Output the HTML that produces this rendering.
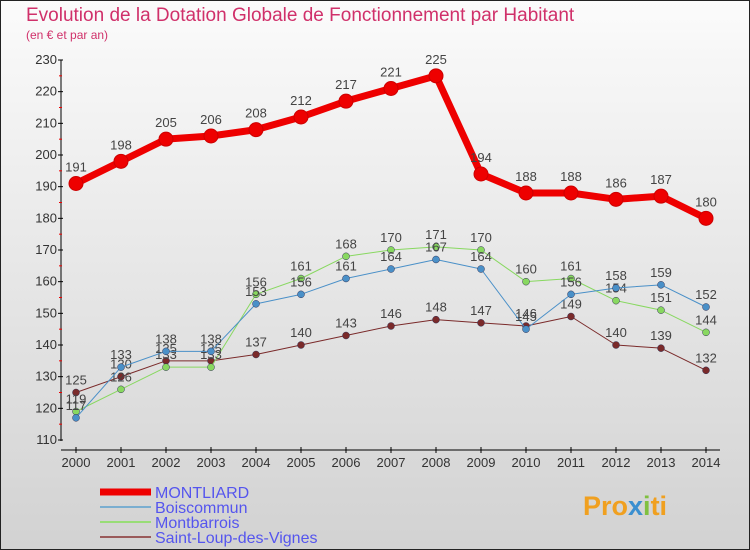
<!DOCTYPE html>
<html><head><meta charset="utf-8"><style>
body{margin:0;width:750px;height:550px;overflow:hidden}
svg{display:block;font-family:"Liberation Sans",sans-serif}
</style></head><body>
<svg width="750" height="550" xmlns="http://www.w3.org/2000/svg">
<defs><linearGradient id="bg" x1="0" y1="0" x2="0" y2="1"><stop offset="0" stop-color="#fbfbfb"/><stop offset="1" stop-color="#d2d2d2"/></linearGradient></defs>
<rect x="0.5" y="0.5" width="749" height="549" fill="url(#bg)" stroke="#222"/>
<text x="26" y="21" font-size="19" fill="#d0306a">Evolution de la Dotation Globale de Fonctionnement par Habitant</text>
<text x="26" y="39" font-size="12" fill="#d0306a">(en € et par an)</text>
<g id="axes"></g>
<g id="series"></g>
<g id="legend"></g>
<text x="583" y="515" font-size="27" font-weight="bold" fill="#f0a020">Pro<tspan fill="#3a8fd0">x</tspan><tspan fill="#80c040">i</tspan>ti</text>
</svg>
<script>
const years=[2000,2001,2002,2003,2004,2005,2006,2007,2008,2009,2010,2011,2012,2013,2014];
const yTicks=[110,120,130,140,150,160,170,180,190,200,210,220,230];
const montliard=[191,198,205,206,208,212,217,221,225,194,188,188,186,187,180];
const boiscommun=[117,133,138,138,153,156,161,164,167,164,145,156,158,159,152];
const montbarrois=[119,126,133,133,156,161,168,170,171,170,160,161,154,151,144];
const saintLoup=[125,130,135,135,137,140,143,146,148,147,146,149,140,139,132];
const NS="http://www.w3.org/2000/svg";
const X=i=>76+i*45;
const Y=v=>440-(v-110)*380/120;
function mk(tag,attrs,parent){const e=document.createElementNS(NS,tag);for(const k in attrs)e.setAttribute(k,attrs[k]);parent.appendChild(e);return e;}
const ax=document.getElementById('axes');
let l=mk('line',{x1:61,y1:60,x2:61,y2:441,stroke:'#000'},ax);


l=mk('line',{x1:61,y1:450,x2:720,y2:450,stroke:'#000'},ax);


yTicks.forEach((v,i)=>{
  mk('line',{x1:58,y1:Y(v),x2:63,y2:Y(v),stroke:'#000'},ax);
  if(i<yTicks.length-1) mk('line',{x1:59,y1:Y(v+5),x2:62,y2:Y(v+5),stroke:'#e00'},ax);
  const t=mk('text',{x:57,y:Y(v)+4,'font-size':13,'text-anchor':'end',fill:'#333'},ax);
  t.textContent=v;
  
  
});
years.forEach((y,i)=>{
  mk('line',{x1:X(i),y1:447,x2:X(i),y2:453,stroke:'#000'},ax);
  const t=mk('text',{x:X(i),y:467,'font-size':13,'text-anchor':'middle',fill:'#333'},ax);
  t.textContent=y;
  
  
});
const sg=document.getElementById('series');
const series=[
 {name:'saint-loup',data:saintLoup,color:'#7a2a2a',w:1,r:3.5},
 {name:'montbarrois',data:montbarrois,color:'#88d860',w:1,r:3.5},
 {name:'boiscommun',data:boiscommun,color:'#4a90c8',w:1,r:3.5},
 {name:'montliard',data:montliard,color:'#ee0000',w:7,r:7}
];
series.forEach(s=>{
  const g=mk('g',{},sg);
  
  
  const p=mk('polyline',{points:s.data.map((v,i)=>X(i)+','+Y(v)).join(' '),fill:'none',stroke:s.color,'stroke-width':s.w,'stroke-linejoin':'round'},g);
  
  
  s.data.forEach((v,i)=>{
    const c=mk('circle',{cx:X(i),cy:Y(v),r:s.r,fill:s.color,stroke:s.w>1?'#c00':'#335','stroke-width':s.w>1?1:0.5},g);
    
    
    const t=mk('text',{x:X(i),y:Y(v)-(s.w>1?12:8),'font-size':13,'text-anchor':'middle',fill:'#444'},g);
    t.textContent=v;
    
    
  });
});
const lg=document.getElementById('legend');
const legendItems=[['MONTLIARD','#ee0000',7],['Boiscommun','#7aaed0',2],['Montbarrois','#99dd77',2],['Saint-Loup-des-Vignes','#9a5a5a',2]];
legendItems.forEach((it,i)=>{
  const y=492+i*15;
  const r=mk('line',{x1:100,y1:y,x2:151,y2:y,stroke:it[1],'stroke-width':it[2]},lg);
  
  
  const t=mk('text',{x:155,y:y+6,'font-size':16,fill:'#5555ee'},lg);
  t.textContent=it[0];
  
  
});
</script>
</body></html>
